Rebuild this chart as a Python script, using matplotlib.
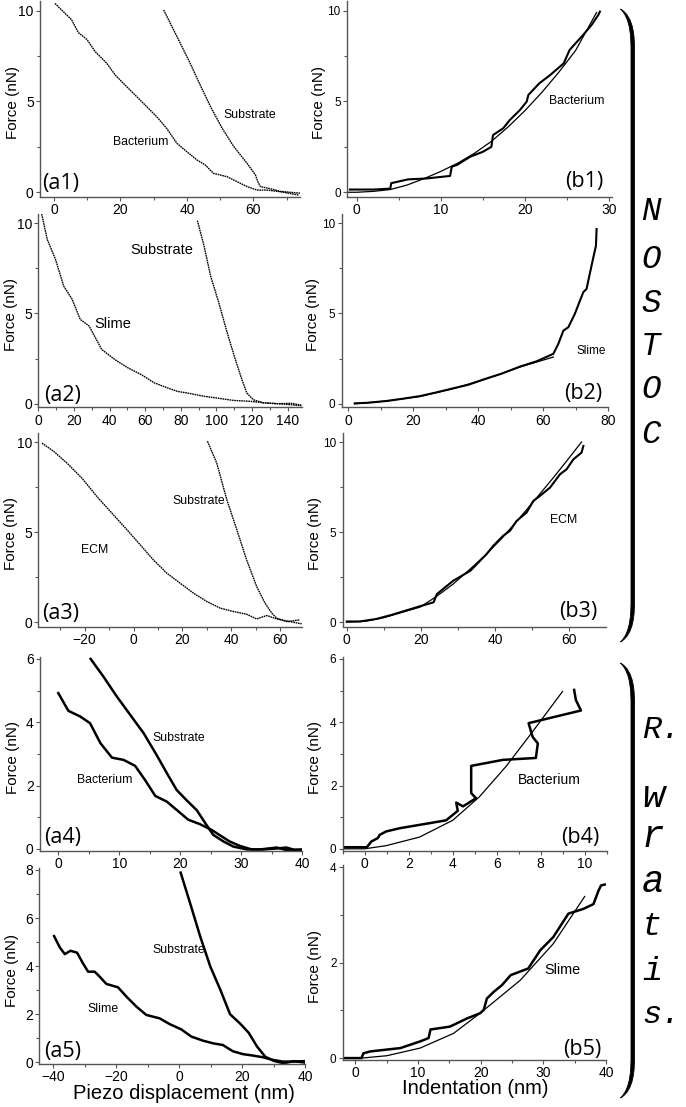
import matplotlib
matplotlib.use("Agg")
import matplotlib.pyplot as plt
from matplotlib.ticker import MultipleLocator
from matplotlib.path import Path
from matplotlib.patches import PathPatch

plt.rcParams['font.family'] = 'Liberation Sans'

W, H = 686, 1107

# ---- data ----
# (a1) Nostoc bacterium / substrate approach curves
a1_bac_x = [0.3, 2.8, 5.3, 7.3, 10, 12.4, 15.9, 18.4, 22.4, 26.9, 30.9, 33.9, 37, 40, 43, 45.5, 48, 52, 55, 58.1, 61.1, 64.1, 68.1, 73.5]
a1_bac_y = [10.4, 9.95, 9.5, 8.8, 8.4, 7.74, 7.1, 6.46, 5.72, 4.9, 4.16, 3.52, 2.69, 2.23, 1.78, 1.5, 1.04, 0.86, 0.59, 0.31, 0.12, 0.12, 0.03, -0.15]
a1_sub_x = [33.0, 37, 40.5, 44.0, 47.1, 50.6, 54.1, 58.1, 60.6, 61.3, 62.1, 65, 68, 71, 74]
a1_sub_y = [10.04, 8.57, 7.28, 5.9, 4.71, 3.52, 2.51, 1.59, 0.95, 0.59, 0.31, 0.2, 0.05, 0.0, -0.05]

# (a2) slime / substrate
a2_sli_x = [1.9, 5, 9.6, 14.3, 19, 23.5, 28.5, 35.6, 43, 50.4, 57.8, 65.2, 72.6, 78.1, 83.7, 93, 100.4, 109.6, 118.9, 128, 137.4, 147.6]
a2_sli_y = [10.5, 9.1, 8.0, 6.5, 5.78, 4.67, 4.3, 3.0, 2.44, 1.98, 1.61, 1.15, 0.87, 0.68, 0.59, 0.41, 0.31, 0.18, 0.13, 0.04, -0.02, -0.11]
a2_sub_x = [89.3, 93, 96.7, 101.3, 106, 110.6, 114.3, 117, 120.7, 126, 134, 142, 147.6]
a2_sub_y = [10.13, 8.74, 7.07, 5.59, 3.93, 2.44, 1.33, 0.59, 0.22, 0.05, 0.0, 0.02, -0.08]

# (a3) ECM / substrate
a3_ecm_x = [-37.4, -32.6, -27.2, -21.1, -15, -8.9, -2.7, 2.7, 8.1, 13.6, 19.0, 24.5, 29.9, 35.4, 40.8, 46.2, 50.3, 54.4, 58.5, 63.9, 68.7]
a3_ecm_y = [9.94, 9.48, 8.83, 8.0, 6.98, 6.06, 5.13, 4.3, 3.46, 2.72, 2.17, 1.61, 1.15, 0.78, 0.59, 0.44, 0.18, 0.37, 0.18, 0.03, -0.09]
a3_sub_x = [30.2, 34, 38.1, 42.2, 46.2, 50.3, 53.7, 56.5, 58.5, 62.6, 68]
a3_sub_y = [10.04, 8.83, 6.8, 5.13, 3.46, 1.98, 1.06, 0.5, 0.22, 0.03, 0.13]

# (a4) R. wratislaviensis bacterium / substrate
a4_bac_x = [0, 1.65, 3.6, 5.2, 6.9, 8.8, 10.7, 12.6, 14.2, 15.9, 17.8, 19.7, 21.3, 23.2, 25.1, 26.8, 28.1, 29.8, 31.7, 33.6, 35.8, 37.4, 38.8, 39.9]
a4_bac_y = [4.92, 4.36, 4.18, 3.97, 3.34, 2.88, 2.81, 2.62, 2.18, 1.67, 1.49, 1.18, 0.92, 0.78, 0.6, 0.39, 0.23, 0.09, -0.02, -0.02, 0.01, 0.04, -0.04, -0.04]
a4_sub_x = [5.3, 7.4, 9.6, 11.8, 14.0, 16.1, 17.8, 19.4, 21.0, 22.7, 24.1, 25.4, 27.1, 28.7, 30.9, 33.1, 35.8, 37.4, 39.9]
a4_sub_y = [6.0, 5.44, 4.81, 4.23, 3.65, 2.97, 2.39, 1.86, 1.54, 1.22, 0.81, 0.44, 0.23, 0.07, -0.02, -0.02, 0.04, -0.04, -0.02]

# (a5) slime / substrate
a5_sli_x = [-39.7, -37.9, -36.3, -34.5, -32.4, -30.5, -28.9, -26.8, -25.2, -23.1, -19.4, -16.7, -13.5, -10.4, -6.2, -3.0, 0.7, 3.9, 7.6, 10.8, 13.9, 17.1, 20.3, 23.5, 26.6, 29.8, 33.0, 36.2, 39.9]
a5_sli_y = [5.25, 4.78, 4.5, 4.64, 4.56, 4.11, 3.77, 3.77, 3.56, 3.26, 3.12, 2.73, 2.31, 1.97, 1.83, 1.59, 1.37, 1.07, 0.9, 0.79, 0.72, 0.46, 0.34, 0.28, 0.21, 0.1, 0.03, 0.03, 0.05]
a5_sub_x = [0.5, 3.5, 6.7, 9.9, 13.1, 16.2, 19.4, 22.1, 24.8, 27.4, 30.1, 33.2, 36.4, 39.9]
a5_sub_y = [7.89, 6.62, 5.24, 3.99, 3.02, 2.0, 1.61, 1.23, 0.65, 0.23, 0.06, -0.04, 0.05, -0.01]

# (b1) bacterium indentation: data and fit
b1_dat_x = [-0.8, 2.0, 4.0, 4.1, 6.1, 8.3, 11.1, 11.3, 11.9, 13.5, 15.0, 16.0, 16.2, 17.4, 18.2, 19.4, 20.2, 20.4, 21.7, 23.0, 24.6, 25.3, 26.9, 27.9, 28.7, 28.9]
b1_dat_y = [0.15, 0.15, 0.2, 0.5, 0.71, 0.76, 0.9, 1.41, 1.5, 1.96, 2.23, 2.5, 3.15, 3.52, 3.98, 4.53, 4.99, 5.36, 6.0, 6.46, 7.1, 7.84, 8.66, 9.21, 9.76, 9.95]
b1_fit_x = [-1, 0, 2, 4, 6, 8, 10, 12, 14, 16, 18, 20, 22, 24, 26, 28.5]
b1_fit_y = [0.0, 0.0, 0.05, 0.15, 0.4, 0.75, 1.15, 1.6, 2.15, 2.8, 3.6, 4.5, 5.5, 6.6, 7.8, 9.9]

# (b2) slime
b2_dat_x = [2.0, 6, 11.8, 17, 22.1, 27, 32.3, 37, 42.6, 47, 52.8, 58, 63.1, 64.6, 66.2, 67.7, 69.7, 71.3, 72.3, 73.3, 74.4, 75.4, 76.2, 76.4]
b2_dat_y = [0.02, 0.05, 0.15, 0.28, 0.42, 0.62, 0.85, 1.05, 1.4, 1.65, 2.05, 2.35, 2.76, 3.3, 4.05, 4.23, 4.97, 5.71, 6.17, 6.35, 7.27, 8.1, 8.74, 9.67]
b2_fit_x = [2.0, 11.8, 22.1, 32.3, 42.6, 52.8, 63.1]
b2_fit_y = [-0.01, 0.15, 0.4, 0.83, 1.38, 2.03, 2.58]

# (b3) ECM
b3_dat_x = [0, 3.6, 8, 12, 16, 20, 23.4, 24.3, 28.7, 33.3, 37.7, 39.5, 42.2, 44.0, 45.8, 48.5, 50.3, 52.1, 54.8, 57.5, 59.3, 61.1, 63.3, 63.8]
b3_dat_y = [0.04, 0.04, 0.18, 0.4, 0.65, 0.9, 1.1, 1.56, 2.3, 2.85, 3.78, 4.24, 4.8, 5.07, 5.62, 6.09, 6.73, 7.01, 7.47, 8.21, 8.49, 9.04, 9.41, 9.78]
b3_fit_x = [0, 5, 10, 15, 19.8, 24, 28.7, 33, 37.7, 42, 46.7, 51, 55.7, 59.5, 63.3]
b3_fit_y = [0.0, 0.05, 0.25, 0.55, 0.84, 1.4, 2.12, 2.9, 3.78, 4.7, 5.81, 6.85, 8.02, 9.0, 10.0]

# (b4) bacterium
b4_dat_x = [-1.06, 0.1, 0.3, 0.6, 0.68, 0.98, 1.59, 2.95, 3.7, 4.23, 4.16, 4.47, 5.06, 4.84, 4.84, 6.28, 7.78, 7.87, 7.63, 7.45, 9.83, 9.6, 9.52]
b4_dat_y = [0.05, 0.05, 0.23, 0.34, 0.44, 0.55, 0.65, 0.81, 0.9, 1.2, 1.46, 1.34, 1.6, 1.76, 2.62, 2.81, 2.87, 3.33, 3.54, 3.97, 4.37, 4.7, 5.02]
b4_fit_x = [-1.06, 0, 0.98, 2.49, 4.0, 5.21, 6.42, 7.63, 8.99]
b4_fit_y = [0.0, 0.0, 0.1, 0.37, 0.9, 1.64, 2.6, 3.7, 4.97]

# (b5) slime
b5_dat_x = [-2.0, 1.0, 1.3, 2.4, 7.2, 10.35, 11.7, 12.0, 15.1, 17.8, 19.9, 20.5, 21.0, 22.1, 23.4, 24.8, 26.8, 27.6, 29.5, 31.6, 34.0, 36.4, 38.0, 38.8, 39.2, 39.8]
b5_dat_y = [0.0, 0.0, 0.1, 0.14, 0.21, 0.35, 0.42, 0.6, 0.66, 0.83, 0.94, 1.01, 1.25, 1.39, 1.53, 1.74, 1.84, 1.88, 2.26, 2.54, 3.03, 3.13, 3.23, 3.51, 3.62, 3.64]
b5_fit_x = [1.06, 5.05, 10.35, 15.7, 19.9, 26.3, 31.6, 36.6]
b5_fit_y = [0.0, 0.05, 0.21, 0.52, 0.94, 1.63, 2.4, 3.39]

fig = plt.figure(figsize=(W / 100, H / 100), dpi=100)


def px_axes(left, right, top, bottom):
    ax = fig.add_axes([left / W, 1 - bottom / H, (right - left) / W, (bottom - top) / H])
    ax.patch.set_visible(False)
    return ax


def style(ax, xlim, ylim, xmaj, xmin, ymaj, ymin, right_col=False):
    ax.set_xlim(*xlim)
    ax.set_ylim(*ylim)
    ax.xaxis.set_major_locator(MultipleLocator(xmaj))
    ax.xaxis.set_minor_locator(MultipleLocator(xmin))
    ax.yaxis.set_major_locator(MultipleLocator(ymaj))
    ax.yaxis.set_minor_locator(MultipleLocator(ymin))
    for s in ['top', 'right']:
        ax.spines[s].set_visible(False)
    for s in ['left', 'bottom']:
        ax.spines[s].set_color('#555555')
        ax.spines[s].set_linewidth(1.0)
    ax.tick_params(which='major', length=3, width=0.8, color='#555555', labelsize=10, pad=1.5)
    ax.tick_params(which='minor', length=2, width=0.8, color='#555555')
    ax.tick_params(axis='y', labelsize=8.5 if right_col else 10)
    ax.set_ylabel('Force (nN)', fontsize=11)
    if right_col:
        ax.yaxis.set_label_coords(-0.08, 0.48)
    else:
        ax.yaxis.set_label_coords(-0.077, 0.48)


dot = dict(color='black', lw=1.0, ls=(0, (1.2, 0.5)))
solid = dict(color='black', lw=1.8, solid_joinstyle='round')
data_b = dict(color='black', lw=1.5, solid_joinstyle='round')
fit_b = dict(color='black', lw=0.9)
lab = dict(ha='center', va='center')

# row 1
ax = px_axes(40, 300, 0.7, 196.8)
style(ax, (-4.2, 74), (-0.25, 10.55), 20, 10, 5, 2.5)
ax.plot(a1_bac_x, a1_bac_y, **dot)
ax.plot(a1_sub_x, a1_sub_y, **dot)
ax.text(58.8, 4.26, 'Substrate', fontsize=8.8, **lab)
ax.text(26.1, 2.79, 'Bacterium', fontsize=8.8, **lab)

ax = px_axes(347, 611.7, 0.7, 196.8)
style(ax, (-1.15, 30.3), (-0.25, 10.55), 10, 5, 5, 2.5, right_col=True)
ax.plot(b1_fit_x, b1_fit_y, **fit_b)
ax.plot(b1_dat_x, b1_dat_y, **data_b)
ax.text(26.2, 5.05, 'Bacterium', fontsize=8.8, **lab)

# row 2
ax = px_axes(38.3, 302, 214, 407.3)
style(ax, (0, 148), (-0.2, 10.5), 20, 10, 5, 2.5)
ax.plot(a2_sli_x, a2_sli_y, **dot)
ax.plot(a2_sub_x, a2_sub_y, **dot)
ax.text(69.4, 8.5, 'Substrate', fontsize=10.5, **lab)
ax.text(42, 4.39, 'Slime', fontsize=10.5, **lab)

ax = px_axes(341.7, 608.3, 214, 407.3)
style(ax, (-2, 80), (-0.2, 10.5), 20, 10, 5, 2.5, right_col=True)
ax.plot(b2_fit_x, b2_fit_y, **fit_b)
ax.plot(b2_dat_x, b2_dat_y, **data_b)
ax.text(74.7, 2.9, 'Slime', fontsize=8.5, **lab)

# row 3
ax = px_axes(38.3, 301.7, 433, 626.5)
style(ax, (-38.9, 68.7), (-0.24, 10.5), 20, 10, 5, 2.5)
ax.plot(a3_ecm_x, a3_ecm_y, **dot)
ax.plot(a3_sub_x, a3_sub_y, **dot)
ax.text(26.8, 6.7, 'Substrate', fontsize=8.8, **lab)
ax.text(-15.9, 4.0, 'ECM', fontsize=8.8, **lab)

ax = px_axes(342.7, 606, 433, 626.5)
style(ax, (-1.1, 69.9), (-0.24, 10.5), 20, 10, 5, 2.5, right_col=True)
ax.plot(b3_fit_x, b3_fit_y, **fit_b)
ax.plot(b3_dat_x, b3_dat_y, **data_b)
ax.text(58.4, 5.68, 'ECM', fontsize=8.8, **lab)

# row 4
ax = px_axes(40, 302.3, 656.7, 850.7)
style(ax, (-3, 40), (-0.06, 6.07), 10, 5, 2, 1)
ax.plot(a4_bac_x, a4_bac_y, **solid)
ax.plot(a4_sub_x, a4_sub_y, **solid)
ax.text(19.8, 3.51, 'Substrate', fontsize=8.8, **lab)
ax.text(7.54, 2.18, 'Bacterium', fontsize=8.8, **lab)

ax = px_axes(342.7, 606.7, 656.7, 850.7)
style(ax, (-1.0, 11.0), (-0.06, 6.07), 2, 1, 2, 1, right_col=True)
ax.plot(b4_fit_x, b4_fit_y, **fit_b)
ax.plot(b4_dat_x, b4_dat_y, **solid)
ax.text(8.39, 2.16, 'Bacterium', fontsize=10, **lab)

# row 5
ax = px_axes(39.3, 305, 868.3, 1064)
style(ax, (-44.4, 40), (-0.07, 8.07), 20, 10, 2, 1)
ax.tick_params(axis='x', pad=1)
ax.plot(a5_sli_x, a5_sli_y, **solid)
ax.plot(a5_sub_x, a5_sub_y, **solid)
ax.text(-0.25, 4.67, 'Substrate', fontsize=8.8, **lab)
ax.text(-24.1, 2.2, 'Slime', fontsize=8.8, **lab)
ax.set_xlabel('Piezo displacement (nm)', fontsize=14.5)
ax.xaxis.set_label_coords((184 - 39.3) / 265.7, -0.1)

ax = px_axes(342.7, 606, 865, 1060)
style(ax, (-2, 40), (-0.04, 4.05), 10, 5, 2, 1, right_col=True)
ax.plot(b5_fit_x, b5_fit_y, **fit_b)
ax.plot(b5_dat_x, b5_dat_y, **solid)
ax.text(33.1, 1.84, 'Slime', fontsize=10.4, **lab)
ax.set_xlabel('Indentation (nm)', fontsize=14.5)
ax.xaxis.set_label_coords(0.502, -0.1)

# panel tags
tags = ['(a1)', '(b1)', '(a2)', '(b2)', '(a3)', '(b3)', '(a4)', '(b4)', '(a5)', '(b5)']
tag_pos = [(61, 183), (584, 181), (62.5, 395), (583, 393), (61, 613),
           (578, 612), (63, 838), (580, 838), (62.5, 1052), (582, 1049)]
for t, (x, y) in zip(tags, tag_pos):
    fig.text(x / W, 1 - y / H, t, fontsize=15.5, family='Open Sans', ha='center', va='center')


# right-hand braces, drawn as a filled stroke that is thicker in the middle
def brace(top, bottom):
    outer, inner, tip = 634.5, 631.0, 620.5
    pts = [(tip, top),
           (outer, top + 8), (outer, top + 30), (outer, top + 42),
           (outer, bottom - 42),
           (outer, bottom - 30), (outer, bottom - 8), (tip, bottom),
           (inner, bottom - 10), (inner, bottom - 30), (inner, bottom - 42),
           (inner, top + 42),
           (inner, top + 30), (inner, top + 10), (tip, top),
           (tip, top)]
    codes = [Path.MOVETO,
             Path.CURVE4, Path.CURVE4, Path.CURVE4,
             Path.LINETO,
             Path.CURVE4, Path.CURVE4, Path.CURVE4,
             Path.CURVE4, Path.CURVE4, Path.CURVE4,
             Path.LINETO,
             Path.CURVE4, Path.CURVE4, Path.CURVE4,
             Path.CLOSEPOLY]
    verts = [(x / W, 1 - y / H) for x, y in pts]
    fig.patches.append(PathPatch(Path(verts, codes), transform=fig.transFigure,
                                 facecolor='black', edgecolor='black', lw=0.6))


brace(9, 642)
brace(663, 1098)

nostoc = ['N', 'O', 'S', 'T', 'O', 'C']
nostoc_base = [220, 268, 312, 355, 398, 443]
for c, yb in zip(nostoc, nostoc_base):
    fig.text(641 / W, 1 - yb / H, c, fontsize=23.5, family='Liberation Mono',
             style='italic', ha='left', va='baseline')

wratis = ['R.', 'w', 'r', 'a', 't', 'i', 's.']
wratis_base = [738, 806.7, 847, 892, 935, 980, 1023]
wratis_size = [23, 27, 27, 27, 24, 24, 23]
for c, yb, fs in zip(wratis, wratis_base, wratis_size):
    fig.text(642 / W, 1 - yb / H, c, fontsize=fs,
             family='Liberation Mono', style='italic', ha='left', va='baseline')

fig.savefig('out.png', dpi=100)
